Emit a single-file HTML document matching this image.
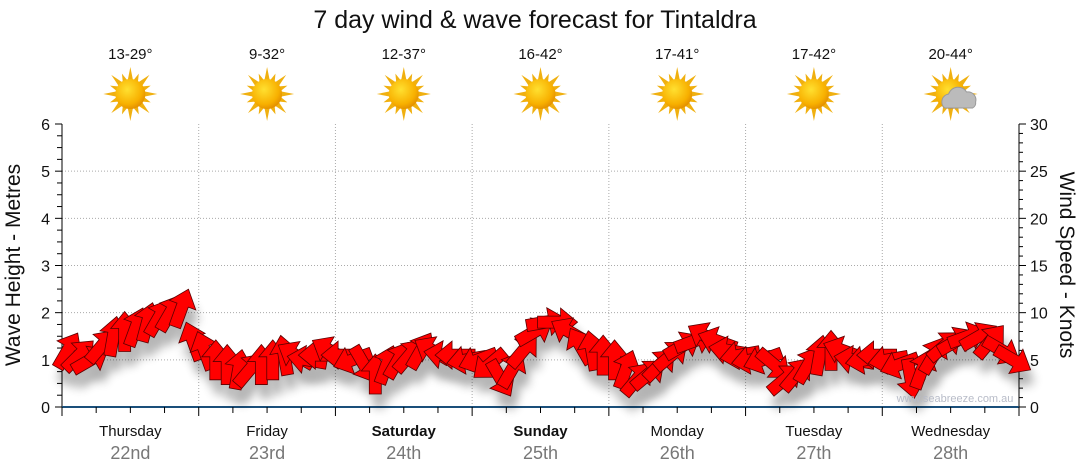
<!DOCTYPE html>
<html><head><meta charset="utf-8"><style>
body{margin:0;background:#fff;font-family:"Liberation Sans","DejaVu Sans",sans-serif}
svg{display:block}
</style></head><body>
<svg id="c" width="1080" height="475" viewBox="0 0 1080 475" xmlns="http://www.w3.org/2000/svg">
<defs>
<radialGradient id="sunG" cx="0.4" cy="0.35" r="0.7"><stop offset="0" stop-color="#ffe030"/><stop offset="0.7" stop-color="#f8b000"/><stop offset="1" stop-color="#e08a00"/></radialGradient>
<filter id="sh" x="-50%" y="-50%" width="200%" height="200%"><feGaussianBlur stdDeviation="5"/></filter>
</defs>
<text x="535" y="28" text-anchor="middle" font-size="25" fill="#111">7 day wind &amp; wave forecast for Tintaldra</text>
<g id="grid"></g><g id="axes"></g><g id="shadows" opacity="0.3"></g><g id="arrows"></g><g id="top"></g>
<text x="955" y="402" text-anchor="middle" font-size="11" fill="#b8bcc8">www.seabreeze.com.au</text>
<text transform="translate(20,265) rotate(-90)" text-anchor="middle" font-size="21" fill="#111">Wave Height - Metres</text>
<text transform="translate(1060,265) rotate(90)" text-anchor="middle" font-size="21" fill="#111">Wind Speed - Knots</text>
</svg>
<script>
const days=["Thursday","Friday","Saturday","Sunday","Monday","Tuesday","Wednesday"];
const dates=["22nd","23rd","24th","25th","26th","27th","28th"];
const boldDays=[false,false,true,true,false,false,false];
const temps=["13-29°","9-32°","12-37°","16-42°","17-41°","17-42°","20-44°"];
const cloudy=[false,false,false,false,false,false,true];
const waveTicks=[0,1,2,3,4,5,6];
const windTicks=[0,5,10,15,20,25,30];
const windSpeed=[6,5.5,5,6.5,7.5,8,8.5,9,9.5,10,10.5,7,
 6,5,4.5,4,4,4.5,5,5.5,5.5,5,5.5,6,
 5.5,5,4.5,3.5,4.5,5,5.5,6,6,5.5,5.5,5,
 5,4.5,3,4,6,8,9,9,8,6.5,6,5.5,
 5,4,3,3.5,4.5,5.5,6.5,7,7.5,7,6,5.5,
 5,5,4.5,3,3.5,4.5,5.5,6,6,5,5,5.5,
 5,4.5,3,4,5.5,6.5,7,7.5,7.5,7,6,5];
const windDir=[30,45,60,40,10,0,20,15,30,30,20,-20,
 -20,0,0,10,40,0,0,-10,-60,-80,-90,-60,
 -90,-110,150,0,20,30,40,30,-60,-80,-90,-100,
 -110,-130,150,30,40,60,80,90,-60,-30,-10,0,
 0,20,40,50,45,50,60,70,-60,-70,-80,-100,
 -100,-110,130,50,40,30,10,0,-70,-80,-100,-90,
 -100,-110,170,20,30,50,60,70,60,40,120,120];
const svg=document.getElementById('c');const NS="http://www.w3.org/2000/svg";
const X0=62,X1=1019,Y0=407,Y1=124;
const xd=d=>X0+(X1-X0)*d/7;
const yWave=v=>Y0-(Y0-Y1)*v/6;
const yWind=v=>Y0-(Y0-Y1)*v/30;
function mk(tag,attrs,parent){const e=document.createElementNS(NS,tag);for(const k in attrs)e.setAttribute(k,attrs[k]);document.getElementById(parent).appendChild(e);return e;}
waveTicks.forEach(v=>{if(v>0&&v<6){const l=mk('line',{x1:X0,x2:X1,y1:yWave(v),y2:yWave(v),stroke:'#aaa','stroke-dasharray':'1,2'},'grid');}});
for(let d=1;d<7;d++){const l=mk('line',{x1:xd(d),x2:xd(d),y1:Y1,y2:Y0,stroke:'#aaa','stroke-dasharray':'1,2'},'grid');}
mk('line',{x1:X0,x2:X0,y1:Y1,y2:Y0,stroke:'#000'},'axes');
mk('line',{x1:X1,x2:X1,y1:Y1,y2:Y0,stroke:'#000'},'axes');
const xa=mk('line',{x1:X0,x2:X1,y1:Y0,y2:Y0,stroke:'#1a4f7a','stroke-width':2},'axes');

for(let i=0;i<=24;i++){const y=Y0-(Y0-Y1)*i/24;const L=i%4==0?7:5;mk('line',{x1:X0-L,x2:X0,y1:y,y2:y,stroke:'#000'},'axes');}
for(let i=0;i<=30;i++){const y=yWind(i);const L=i%5==0?7:4;mk('line',{x1:X1,x2:X1+L,y1:y,y2:y,stroke:'#000'},'axes');}
waveTicks.forEach(v=>{const t=mk('text',{x:X0-12,y:yWave(v)+6,'text-anchor':'end','font-size':16,fill:'#111'},'axes');t.textContent=v;});
windTicks.forEach(v=>{const t=mk('text',{x:X1+11,y:yWind(v)+6,'font-size':16,fill:'#111'},'axes');t.textContent=v;});
for(let i=0;i<=28;i++){const x=X0+(X1-X0)*i/28;const L=i%4==0?9:6;mk('line',{x1:x,x2:x,y1:Y0,y2:Y0+L,stroke:'#000'},'axes');}
days.forEach((d,i)=>{const cx=xd(i+0.5);
 const t=mk('text',{x:cx,y:436,'text-anchor':'middle','font-size':15,fill:'#111','font-weight':boldDays[i]?'bold':'normal'},'top');t.textContent=d;
 const t2=mk('text',{x:cx,y:459,'text-anchor':'middle','font-size':18,fill:'#777'},'top');t2.textContent=dates[i];
 const t3=mk('text',{x:cx,y:59,'text-anchor':'middle','font-size':15,fill:'#111'},'top');t3.textContent=temps[i];
 const g=mk('g',{transform:`translate(${cx},94)`},'top');
 for(let k=0;k<16;k++){const a=k*Math.PI/8,r=k%2?22:27;const p=document.createElementNS(NS,'polygon');
  const bx=Math.cos(a),by=Math.sin(a),px=-by,py=bx;
  p.setAttribute('points',`${bx*r},${by*r} ${bx*12+px*3},${by*12+py*3} ${bx*12-px*3},${by*12-py*3}`);p.setAttribute('fill','#f0b010');g.appendChild(p);}
 const c=document.createElementNS(NS,'circle');c.setAttribute('r',15);c.setAttribute('fill','url(#sunG)');g.appendChild(c);
 if(cloudy[i]){const cl=document.createElementNS(NS,'path');cl.setAttribute('d','M-6,14 a8,8 0 0 1 4,-14 a10,10 0 0 1 18,-2 a8,8 0 0 1 9,10 a6,6 0 0 1 -3,6 z');cl.setAttribute('fill','#bbb');cl.setAttribute('stroke','#999');g.appendChild(cl);}
});
const N=windSpeed.length;
const AP="M-20,-6 L3,-6 L3,-14 L20,0 L3,14 L3,6 L-20,6 Z";
windSpeed.forEach((v,i)=>{const x=X0+(X1-X0)*(i+0.5)/N,y=yWind(v);const rot=windDir[i]-90;
 const s=mk('path',{d:AP,transform:`translate(${x+4},${y+14}) rotate(${rot})`,fill:'#000',filter:'url(#sh)'},'shadows');
 
 const a=mk('path',{d:AP,transform:`translate(${x},${y}) rotate(${rot})`,fill:'#ff0000',stroke:'#5a0000','stroke-width':0.8},'arrows');
 
});
</script>
</body></html>
